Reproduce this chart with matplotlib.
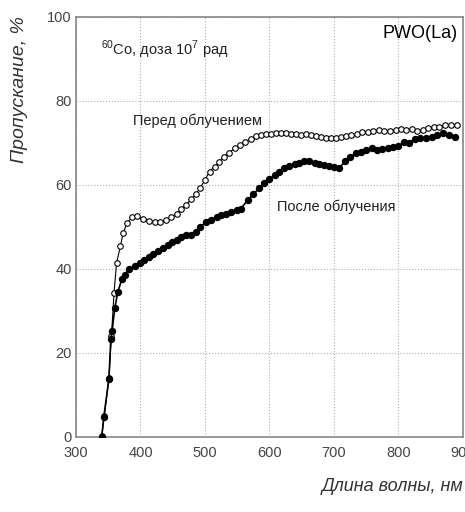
import matplotlib
matplotlib.use("Agg")
import matplotlib.pyplot as plt

plt.rcParams['font.family'] = ['Liberation Sans', 'DejaVu Sans']
plt.rcParams['mathtext.fontset'] = 'custom'
plt.rcParams['mathtext.rm'] = 'Liberation Sans'

# before irradiation (open circles)
wl_before = [340, 344, 351, 355, 359, 363, 369, 373, 379, 387, 395, 404, 413, 422,
             431, 439, 448, 456, 463, 470, 479, 486, 492, 500, 507, 515, 522, 529,
             537, 546, 554, 562, 571, 579, 587, 595, 603, 610, 618, 626, 634, 641,
             649, 657, 664, 672, 680, 688, 695, 703, 711, 719, 727, 736, 744, 752,
             760, 769, 778, 787, 796, 804, 812, 821, 829, 838, 846, 855, 863, 872,
             881, 890]
t_before = [0.3, 5.0, 14.0, 24.0, 34.4, 41.5, 45.5, 48.5, 50.9, 52.4, 52.5, 51.9, 51.5, 51.2,
            51.1, 51.6, 52.3, 53.2, 54.2, 55.2, 56.6, 57.9, 59.2, 61.2, 63.2, 64.4, 65.5, 66.7,
            67.7, 68.7, 69.5, 70.3, 71.0, 71.6, 71.9, 72.1, 72.2, 72.3, 72.3, 72.3, 72.2, 72.1,
            71.9, 72.1, 71.9, 71.7, 71.5, 71.3, 71.3, 71.3, 71.5, 71.7, 71.9, 72.1, 72.5, 72.7,
            72.9, 73.1, 72.9, 72.9, 73.1, 73.3, 73.1, 73.3, 72.9, 73.1, 73.5, 73.7, 73.9, 74.3,
            74.3, 74.3]

# after irradiation (filled circles)
wl_after = [340, 343, 351, 354, 356, 360, 365, 371, 376, 382, 391, 399, 406, 413,
            420, 427, 435, 442, 449, 456, 463, 470, 478, 486, 493, 501, 510, 518,
            525, 533, 541, 549, 556, 566, 575, 584, 592, 600, 608, 615, 623, 631,
            639, 646, 654, 662, 670, 677, 685, 693, 700, 708, 717, 725, 734, 742,
            750, 759, 767, 775, 783, 791, 800, 809, 816, 826, 834, 842, 852, 860,
            869, 878, 888]
t_after = [0.1, 4.7, 13.7, 23.3, 25.2, 30.6, 34.6, 37.5, 38.6, 39.9, 40.8, 41.5, 42.2, 42.9,
           43.6, 44.3, 45.1, 45.8, 46.5, 46.9, 47.5, 48.1, 48.1, 48.9, 49.9, 51.3, 51.7, 52.4,
           52.9, 53.2, 53.5, 54.0, 54.4, 56.4, 57.8, 59.3, 60.4, 61.4, 62.4, 63.2, 64.0, 64.5,
           65.0, 65.3, 65.6, 65.6, 65.3, 65.0, 64.8, 64.5, 64.2, 64.0, 65.6, 66.7, 67.5, 67.9,
           68.3, 68.7, 68.3, 68.5, 68.7, 69.1, 69.3, 70.3, 70.1, 70.9, 71.1, 71.1, 71.5, 71.9,
           72.3, 71.9, 71.5]

xticks = [300, 400, 500, 600, 700, 800, 900]
yticks = [0, 20, 40, 60, 80, 100]

fig = plt.figure(figsize=(4.65, 5.12), dpi=100)
ax = fig.add_axes([0.1634, 0.1465, 0.8323, 0.8203])

ax.plot(wl_before, t_before, "-o", color="black", lw=0.8, ms=4.0,
        mfc="white", mec="black", mew=0.8, zorder=3)
ax.plot(wl_after, t_after, "-o", color="black", lw=1.2, ms=4.3,
        mfc="black", mec="black", zorder=4)

ax.set_xlim(300, 900)
ax.set_ylim(0, 100)
ax.set_xticks(xticks)
ax.set_yticks(yticks)
ax.tick_params(length=0, labelsize=10.5, labelcolor="#444444")
ax.tick_params(axis="y", pad=3)
ax.tick_params(axis="x", pad=6.5)
ax.grid(True, ls=":", lw=0.8, color="#b0b0b0")
for s in ax.spines.values():
    s.set_color("#888888")
    s.set_linewidth(1.2)

ax.text(0.064, 0.921, "$^{60}$Co, доза 10$^{7}$ рад", transform=ax.transAxes,
        fontsize=10.5, color="#222222", va="center")
ax.text(0.985, 0.96, "PWO(La)", transform=ax.transAxes, fontsize=13,
        ha="right", va="center", color="black")
ax.text(388, 75.3, "Перед облучением", fontsize=10.5, color="#222222", va="center")
ax.text(611, 54.8, "После облучения", fontsize=10.5, color="#222222", va="center")

fig.text(0.043, 0.968, "Пропускание, %", rotation=90, fontsize=14,
         style="italic", color="#333333", ha="center", va="top")
fig.text(0.997, 0.049, "Длина волны, нм", fontsize=13, style="italic",
         color="#333333", ha="right", va="center")

fig.savefig("out.png", dpi=100)
